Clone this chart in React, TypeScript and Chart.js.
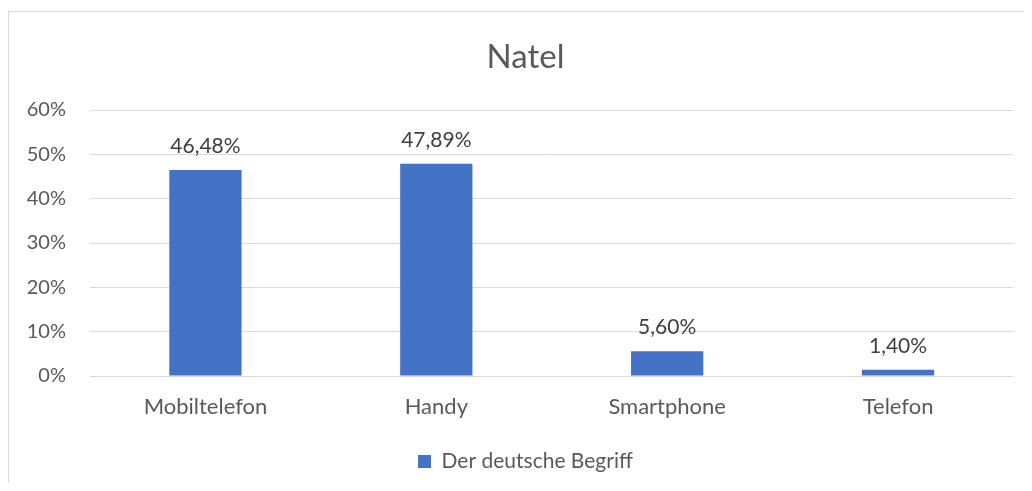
import React, { useEffect, useRef } from "react";
import { Chart, registerables } from "chart.js";

Chart.register(...registerables);

const categories = ["Mobiltelefon", "Handy", "Smartphone", "Telefon"];
const seriesName = "Der deutsche Begriff";
const seriesValues = [46.48, 47.89, 5.6, 1.4];
const yTickLabels = ["0%", "10%", "20%", "30%", "40%", "50%", "60%"];
const chartTitle = "Natel";

const FONT = "Lato, 'Open Sans', sans-serif";

const dataLabelPlugin = {
  id: "dataLabels",
  afterDatasetsDraw(chart: any) {
    const { ctx } = chart;
    ctx.save();
    ctx.font = `21px ${FONT}`;
    ctx.fillStyle = "#404040";
    ctx.textAlign = "center";
    ctx.textBaseline = "alphabetic";
    chart.data.datasets.forEach((ds: any, di: number) => {
      const meta = chart.getDatasetMeta(di);
      meta.data.forEach((bar: any, i: number) => {
        const v = ds.data[i] as number;
        const txt = v.toFixed(2).replace(".", ",") + "%";
        ctx.fillText(txt, bar.x, bar.y - 17);
      });
    });
    ctx.restore();
  },
};

export default function App() {
  const ref = useRef<HTMLCanvasElement | null>(null);
  useEffect(() => {
    if (!ref.current) return;
    const chart = new Chart(ref.current, {
      type: "bar",
      data: {
        labels: categories,
        datasets: [
          {
            label: seriesName,
            data: seriesValues,
            backgroundColor: "#4472C4",
            borderWidth: 0,
            categoryPercentage: 1,
            barPercentage: 0.313,
          },
        ],
      },
      options: {
        responsive: false,
        animation: false,
        layout: { padding: { left: 29.5, right: 18.5, top: 0, bottom: 1 } },
        scales: {
          x: {
            grid: { display: false, drawTicks: false },
            border: { display: false },
            ticks: { color: "#595959", font: { family: FONT, size: 22 }, padding: 18 },
            afterFit(scale: any) {
              scale.height = 65;
            },
          },
          y: {
            min: 0,
            max: 60,
            grid: { color: "#d9d9d9", lineWidth: 1, drawTicks: false },
            border: { display: false },
            ticks: {
              stepSize: 10,
              color: "#595959",
              font: { family: FONT, size: 20 },
              padding: 24,
              callback: (_v: any, i: number) => yTickLabels[i],
            },
            afterFit(scale: any) {
              scale.width = 52.5;
              // let tick labels extend past the axis box (no clipping)
              scale._computeLabelArea = () => undefined;
            },
          },
        },
        plugins: {
          title: {
            display: true,
            text: chartTitle,
            color: "#595959",
            font: { family: FONT, size: 33, weight: "normal" as any },
            padding: { top: 29.2, bottom: 33.2 },
          },
          legend: {
            display: true,
            position: "bottom",
            labels: {
              color: "#595959",
              font: { family: FONT, size: 21 },
              boxWidth: 13,
              boxHeight: 13,
              padding: 10,
            },
          },
          tooltip: { enabled: false },
        },
      },
      plugins: [dataLabelPlugin],
    });
    return () => chart.destroy();
  }, []);

  return (
    <div style={{ position: "relative", width: 1024, height: 475, overflow: "hidden" }}>
      <div
        style={{
          position: "absolute",
          left: 0,
          top: 3,
          width: 1100,
          height: 600,
          border: "1px solid #d9d9d9",
          boxSizing: "border-box",
        }}
      />
      <canvas ref={ref} width={1024} height={475} style={{ position: "absolute", left: 0, top: 0 }} />
    </div>
  );
}
